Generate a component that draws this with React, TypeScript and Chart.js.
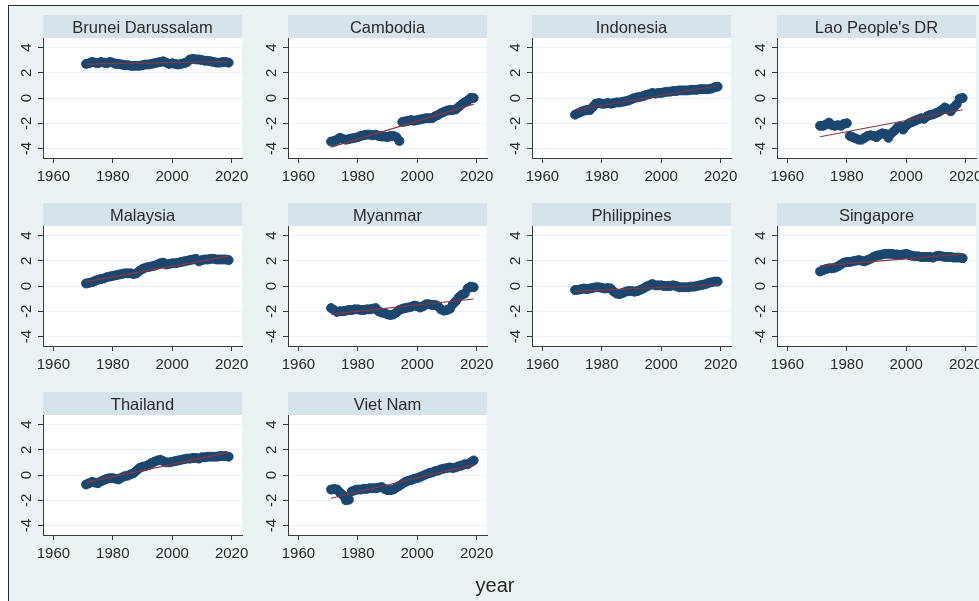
import React, { useEffect, useRef } from "react";
import { Chart, registerables } from "chart.js";

Chart.register(...registerables);

const YEARS = [
  1971, 1972, 1973, 1974, 1975, 1976, 1977, 1978, 1979, 1980,
  1981, 1982, 1983, 1984, 1985, 1986, 1987, 1988, 1989, 1990,
  1991, 1992, 1993, 1994, 1995, 1996, 1997, 1998, 1999, 2000,
  2001, 2002, 2003, 2004, 2005, 2006, 2007, 2008, 2009, 2010,
  2011, 2012, 2013, 2014, 2015, 2016, 2017, 2018, 2019,
];

const COUNTRIES = [
  "Brunei Darussalam", "Cambodia", "Indonesia", "Lao People's DR",
  "Malaysia", "Myanmar", "Philippines", "Singapore",
  "Thailand", "Viet Nam",
];

const BRUNEI = [
  2.7, 2.75, 2.85, 2.8, 2.75, 2.85, 2.8, 2.75, 2.85, 2.8,
  2.7, 2.7, 2.65, 2.6, 2.6, 2.55, 2.55, 2.55, 2.55, 2.6,
  2.65, 2.65, 2.7, 2.75, 2.8, 2.85, 2.9, 2.8, 2.7, 2.75,
  2.7, 2.65, 2.7, 2.75, 2.85, 3.05, 3.1, 3.05, 3.05, 3.0,
  2.95, 2.95, 2.9, 2.85, 2.8, 2.8, 2.85, 2.85, 2.8,
];
const CAMBODIA = [
  -3.45, -3.4, -3.3, -3.15, -3.25, -3.3, -3.25, -3.2, -3.15, -3.1,
  -3.0, -2.95, -2.9, -2.9, -2.95, -2.9, -3.0, -3.05, -3.05, -3.1,
  -3.0, -3.0, -3.1, -3.4, -1.9, -1.85, -1.8, -1.75, -1.8, -1.75,
  -1.7, -1.65, -1.6, -1.6, -1.6, -1.45, -1.35, -1.2, -1.1, -1.0,
  -0.95, -0.95, -0.9, -0.7, -0.5, -0.35, -0.2, 0.0, 0.0,
];
const INDONESIA = [
  -1.32, -1.2, -1.1, -1.0, -0.95, -0.95, -0.7, -0.45, -0.4, -0.45,
  -0.45, -0.4, -0.45, -0.4, -0.35, -0.35, -0.3, -0.25, -0.2, -0.1,
  0.0, 0.05, 0.1, 0.15, 0.25, 0.3, 0.4, 0.35, 0.4, 0.4,
  0.45, 0.5, 0.5, 0.55, 0.55, 0.6, 0.6, 0.6, 0.6, 0.65,
  0.65, 0.65, 0.7, 0.7, 0.7, 0.7, 0.75, 0.85, 0.9,
];
const LAO = [
  -2.2, -2.2, -2.1, -1.95, -2.15, -2.2, -2.15, -2.2, -2.05, -2.0,
  -3.0, -3.1, -3.2, -3.3, -3.3, -3.15, -3.0, -2.95, -3.0, -3.1,
  -2.9, -2.8, -2.85, -3.15, -2.8, -2.6, -2.35, -2.25, -2.5, -2.2,
  -2.0, -1.9, -1.8, -1.7, -1.6, -1.65, -1.45, -1.35, -1.3, -1.2,
  -1.1, -0.95, -0.75, -0.9, -1.05, -0.75, -0.5, -0.05, 0.0,
];
const MALAYSIA = [
  0.2, 0.25, 0.3, 0.4, 0.5, 0.55, 0.6, 0.7, 0.75, 0.8,
  0.85, 0.9, 0.95, 1.0, 1.0, 1.0, 0.95, 1.0, 1.2, 1.35,
  1.45, 1.5, 1.55, 1.6, 1.7, 1.8, 1.85, 1.7, 1.75, 1.8,
  1.8, 1.85, 1.9, 1.95, 2.0, 2.05, 2.1, 2.15, 1.95, 2.05,
  2.1, 2.1, 2.15, 2.15, 2.1, 2.1, 2.1, 2.1, 2.05,
];
const MYANMAR = [
  -1.75, -1.9, -2.05, -2.0, -2.0, -1.95, -1.9, -1.9, -1.85, -1.85,
  -1.9, -1.9, -1.85, -1.85, -1.8, -1.75, -2.0, -2.1, -2.15, -2.25,
  -2.3, -2.25, -2.1, -1.9, -1.8, -1.75, -1.7, -1.65, -1.55, -1.6,
  -1.7, -1.6, -1.45, -1.45, -1.5, -1.5, -1.6, -1.85, -1.95, -1.9,
  -1.8, -1.45, -1.2, -0.9, -0.7, -0.6, -0.2, -0.05, -0.1,
];
const PHILIPPINES = [
  -0.32, -0.3, -0.25, -0.2, -0.25, -0.2, -0.15, -0.1, -0.1, -0.15,
  -0.2, -0.15, -0.2, -0.45, -0.6, -0.65, -0.55, -0.45, -0.4, -0.4,
  -0.45, -0.4, -0.3, -0.2, -0.05, 0.05, 0.15, 0.05, 0.05, 0.05,
  0.0, 0.0, 0.0, 0.05, 0.0, -0.1, -0.1, -0.1, -0.1, -0.05,
  -0.05, 0.0, 0.05, 0.1, 0.15, 0.25, 0.3, 0.35, 0.35,
];
const SINGAPORE = [
  1.15, 1.25, 1.35, 1.4, 1.4, 1.45, 1.55, 1.7, 1.85, 1.9,
  1.9, 1.95, 2.0, 2.05, 2.0, 1.95, 2.05, 2.15, 2.3, 2.4,
  2.45, 2.5, 2.55, 2.55, 2.55, 2.5, 2.5, 2.45, 2.5, 2.55,
  2.45, 2.4, 2.35, 2.35, 2.3, 2.3, 2.3, 2.3, 2.25, 2.35,
  2.4, 2.35, 2.3, 2.3, 2.3, 2.25, 2.25, 2.25, 2.2,
];
const THAILAND = [
  -0.75, -0.65, -0.55, -0.6, -0.65, -0.5, -0.4, -0.3, -0.25, -0.25,
  -0.3, -0.35, -0.2, -0.1, -0.05, 0.05, 0.15, 0.35, 0.55, 0.65,
  0.7, 0.8, 0.95, 1.05, 1.15, 1.2, 1.1, 1.0, 1.0, 1.05,
  1.1, 1.15, 1.2, 1.25, 1.3, 1.3, 1.35, 1.35, 1.3, 1.4,
  1.4, 1.45, 1.45, 1.45, 1.45, 1.5, 1.5, 1.5, 1.45,
];
const VIETNAM = [
  -1.15, -1.1, -1.15, -1.4, -1.6, -2.0, -1.95, -1.3, -1.2, -1.15,
  -1.15, -1.1, -1.1, -1.05, -1.05, -1.05, -1.0, -0.95, -1.1, -1.2,
  -1.2, -1.15, -1.0, -0.85, -0.7, -0.55, -0.45, -0.4, -0.3, -0.25,
  -0.15, -0.05, 0.05, 0.15, 0.2, 0.3, 0.35, 0.45, 0.5, 0.55,
  0.6, 0.55, 0.6, 0.7, 0.75, 0.85, 0.85, 1.0, 1.15,
];

const SERIES = [
  BRUNEI, CAMBODIA, INDONESIA, LAO, MALAYSIA,
  MYANMAR, PHILIPPINES, SINGAPORE, THAILAND, VIETNAM,
];

// fitted line end values (at first and last year)
const FIT_START = [2.68, -3.89, -0.95, -3.07, 0.34, -2.23, -0.42, 1.6, -0.58, -1.84];
const FIT_END = [2.89, -0.48, 0.97, -0.93, 2.37, -1.03, 0.1, 2.53, 1.79, 0.82];

const X_TICKS = [1960, 1980, 2000, 2020];
const Y_TICKS = [-4, -2, 0, 2, 4];

const FONT = '"Liberation Sans", Arial, Helvetica, sans-serif';
const BG = "#EAF2F3";
const TITLE_BG = "#D6E3EA";
const NAVY = "#1A476F";
const MAROON = "#90353B";
const AXIS = "#3a3a3a";
const TEXT = "#2a2a2a";

const COL_LEFT = [43, 288, 532, 777];
const ROW_TOP = [15, 203, 392];
const TITLE_H = 23;
const PLOT_W = 199;
const PLOT_H = 120;
const AXIS_W = 40;
const AXIS_H = 32;
const PAD_R = 22;

function Panel({ idx }: { idx: number }) {
  const ref = useRef<HTMLCanvasElement | null>(null);
  const col = idx % 4;
  const row = Math.floor(idx / 4);
  const left = COL_LEFT[col] - AXIS_W;
  const top = ROW_TOP[row];
  const w = AXIS_W + PLOT_W + PAD_R;
  const h = TITLE_H + PLOT_H + AXIS_H;

  useEffect(() => {
    if (!ref.current) return;
    const values = SERIES[idx];
    const name = COUNTRIES[idx];
    const bgPlugin = {
      id: "panelBg",
      beforeDraw(chart: any) {
        const { ctx, chartArea } = chart;
        ctx.save();
        ctx.fillStyle = "#ffffff";
        ctx.fillRect(chartArea.left, chartArea.top, chartArea.right - chartArea.left, chartArea.bottom - chartArea.top);
        ctx.fillStyle = TITLE_BG;
        ctx.fillRect(chartArea.left, 0, chartArea.right - chartArea.left, chartArea.top);
        ctx.fillStyle = TEXT;
        ctx.font = `16.5px ${FONT}`;
        ctx.textAlign = "center";
        ctx.textBaseline = "alphabetic";
        ctx.fillText(name, (chartArea.left + chartArea.right) / 2, chartArea.top / 2 + 6);
        ctx.restore();
      },
    };
    const chart = new Chart(ref.current, {
      type: "scatter",
      data: {
        datasets: [
          {
            type: "line",
            data: [
              { x: YEARS[0], y: FIT_START[idx] },
              { x: YEARS[YEARS.length - 1], y: FIT_END[idx] },
            ],
            borderColor: MAROON,
            borderWidth: 1.2,
            pointRadius: 0,
            fill: false,
            order: 0,
          } as any,
          {
            type: "scatter",
            data: YEARS.map((y, i) => ({ x: y, y: values[i] })),
            backgroundColor: NAVY,
            borderColor: NAVY,
            borderWidth: 1,
            pointRadius: 4.5,
            order: 1,
          } as any,
        ],
      },
      options: {
        animation: false,
        responsive: false,
        maintainAspectRatio: false,
        events: [],
        layout: { padding: { top: TITLE_H, right: PAD_R, left: 0, bottom: 0 } },
        plugins: {
          legend: { display: false },
          tooltip: { enabled: false },
          title: { display: false },
        },
        scales: {
          x: {
            type: "linear",
            min: 1956.5,
            max: 2023.5,
            afterBuildTicks: (s: any) => {
              s.ticks = X_TICKS.map((v) => ({ value: v }));
            },
            afterFit: (s: any) => {
              s.height = AXIS_H;
            },
            grid: { drawOnChartArea: false, drawTicks: true, tickLength: 5, tickColor: AXIS },
            border: { display: true, color: AXIS, width: 1 },
            ticks: {
              autoSkip: false,
              maxRotation: 0,
              padding: 5,
              color: TEXT,
              font: { family: FONT, size: 15 },
              callback: (v: any) => String(v),
            },
          },
          y: {
            type: "linear",
            min: -4.75,
            max: 4.75,
            afterBuildTicks: (s: any) => {
              s.ticks = Y_TICKS.map((v) => ({ value: v }));
            },
            afterFit: (s: any) => {
              s.width = AXIS_W;
            },
            grid: { color: BG, lineWidth: 1, drawTicks: true, tickLength: 5, tickColor: AXIS },
            border: { display: true, color: AXIS, width: 1 },
            ticks: {
              autoSkip: false,
              minRotation: 90,
              maxRotation: 90,
              crossAlign: "center",
              padding: 4,
              color: TEXT,
              font: { family: FONT, size: 15 },
              callback: (v: any) => String(v),
            },
          },
        },
      } as any,
      plugins: [bgPlugin],
    });
    return () => chart.destroy();
  }, [idx]);

  return (
    <canvas
      ref={ref}
      width={w}
      height={h}
      style={{ position: "absolute", left, top, width: w, height: h }}
    />
  );
}

export default function App() {
  return (
    <div
      style={{
        position: "fixed",
        left: 0,
        top: 0,
        width: 979,
        height: 601,
        overflow: "hidden",
        background: "#ffffff",
      }}
    >
      <div
        style={{
          position: "absolute",
          left: 8,
          top: 5,
          width: 1000,
          height: 700,
          boxSizing: "border-box",
          border: "1px solid #2b2b2b",
          background: BG,
        }}
      />
      {COUNTRIES.map((_, i) => (
        <Panel key={i} idx={i} />
      ))}
      <div
        style={{
          position: "absolute",
          left: 495,
          top: 575,
          transform: "translateX(-50%)",
          fontFamily: FONT,
          fontSize: 20,
          lineHeight: "20px",
          color: TEXT,
          whiteSpace: "nowrap",
        }}
      >
        year
      </div>
    </div>
  );
}
